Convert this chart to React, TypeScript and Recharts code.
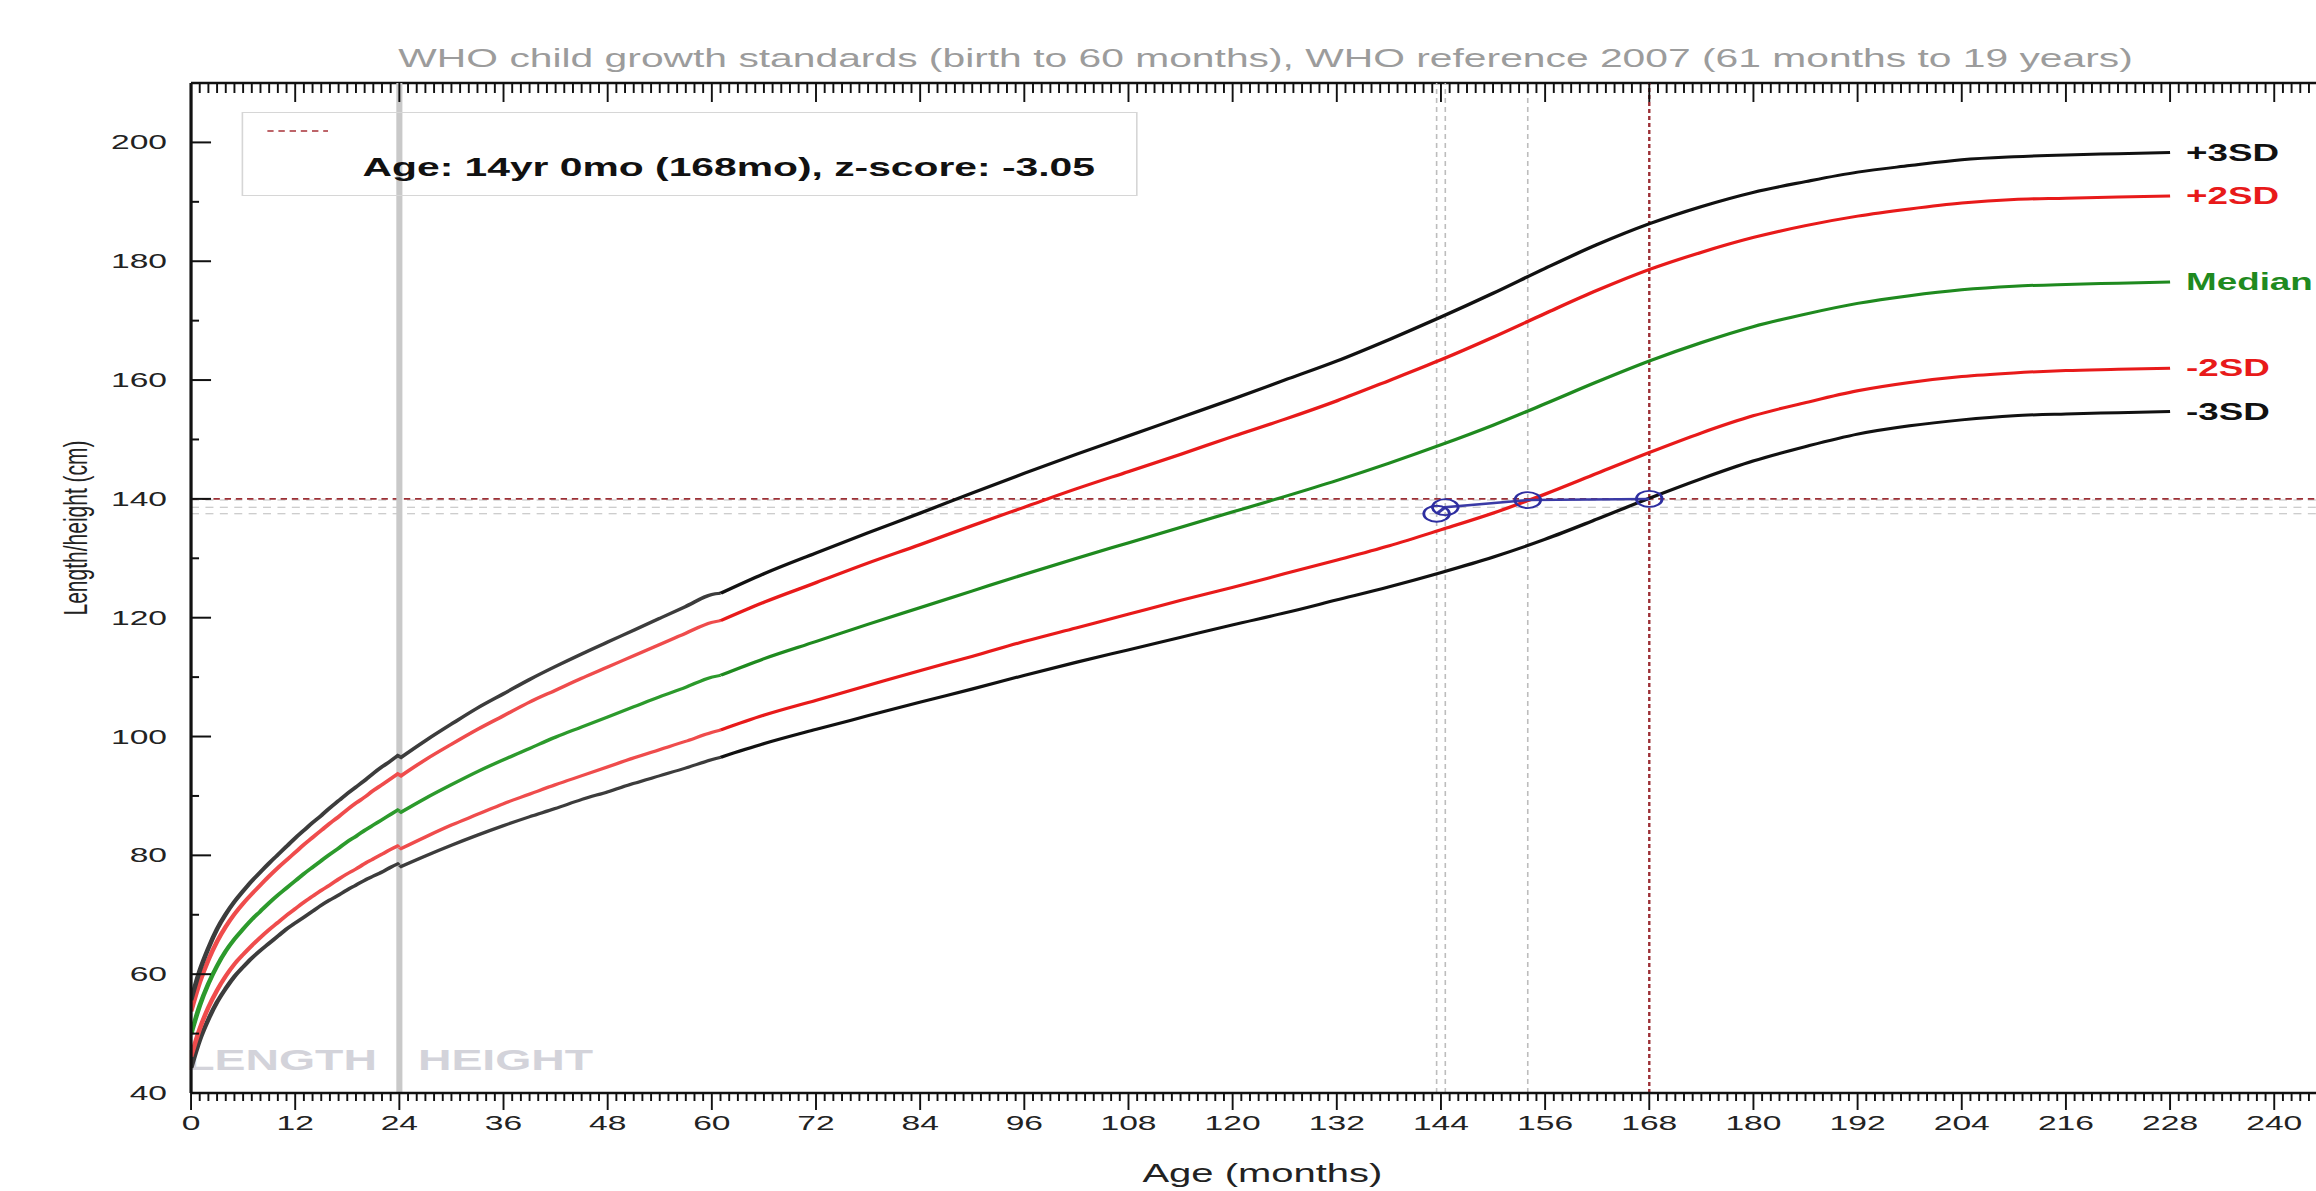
import React from 'react';
import { ComposedChart, Line, XAxis, YAxis, ReferenceLine, Legend, LabelList } from 'recharts';

// ---------- layout constants ----------
const STRETCH = 1.6; // the reference image is horizontally stretched
const CHART_W = 1600;
const CHART_H = 1191;
const PLOT_H = 1010;
const FONT = '"Liberation Sans", Arial, Helvetica, sans-serif';

// ---------- data (WHO boys length/height-for-age, cm) ----------
// Length 0–24 months
const lengthMonths = [0, 1, 2, 3, 4, 5, 6, 7, 8, 9, 10, 11, 12, 13, 14, 15, 16, 17, 18, 19, 20, 21, 22, 23, 24];
const lengthMinus3 = [44.2, 48.9, 52.4, 55.3, 57.6, 59.6, 61.2, 62.7, 64.0, 65.2, 66.4, 67.6, 68.6, 69.6, 70.6, 71.6, 72.5, 73.3, 74.2, 75.0, 75.8, 76.5, 77.2, 78.0, 78.7];
const lengthMinus2 = [46.1, 50.8, 54.4, 57.3, 59.7, 61.7, 63.3, 64.8, 66.2, 67.5, 68.7, 69.9, 71.0, 72.1, 73.1, 74.1, 75.0, 76.0, 76.9, 77.7, 78.6, 79.4, 80.2, 81.0, 81.7];
const lengthMedian = [49.9, 54.7, 58.4, 61.4, 63.9, 65.9, 67.6, 69.2, 70.6, 72.0, 73.3, 74.5, 75.7, 76.9, 78.0, 79.1, 80.2, 81.2, 82.3, 83.2, 84.2, 85.1, 86.0, 86.9, 87.8];
const lengthPlus2 = [53.7, 58.6, 62.4, 65.5, 68.0, 70.1, 71.9, 73.5, 75.0, 76.5, 77.9, 79.2, 80.5, 81.8, 83.0, 84.2, 85.4, 86.5, 87.7, 88.8, 89.8, 90.9, 91.9, 92.9, 93.9];
const lengthPlus3 = [55.6, 60.6, 64.4, 67.6, 70.1, 72.2, 74.0, 75.7, 77.2, 78.7, 80.1, 81.5, 82.9, 84.2, 85.5, 86.7, 88.0, 89.2, 90.4, 91.5, 92.6, 93.8, 94.9, 95.9, 97.0];

// Height 24–61 months (joins the 2007 reference at 61)
const heightMonths = [24, 27, 30, 33, 36, 39, 42, 45, 48, 51, 54, 57, 60, 61];
const heightMinus3 = [78.0, 79.9, 81.7, 83.4, 85.0, 86.5, 87.9, 89.4, 90.7, 92.1, 93.4, 94.7, 96.1, 96.5];
const heightMinus2 = [81.0, 83.1, 85.1, 86.9, 88.7, 90.3, 91.9, 93.4, 94.9, 96.4, 97.8, 99.2, 100.7, 101.1];
const heightMedian = [87.1, 89.6, 91.9, 94.1, 96.1, 98.0, 99.9, 101.6, 103.3, 105.0, 106.7, 108.3, 110.0, 110.3];
const heightPlus2 = [93.2, 96.1, 98.7, 101.2, 103.5, 105.8, 107.8, 109.8, 111.7, 113.6, 115.5, 117.4, 119.2, 119.5];
const heightPlus3 = [96.3, 99.3, 102.1, 104.8, 107.2, 109.6, 111.8, 113.9, 115.9, 117.9, 119.9, 121.9, 123.9, 124.1];

// WHO reference 2007, 61–228 months
const refMonths = [61, 66, 72, 78, 84, 90, 96, 102, 108, 114, 120, 126, 132, 138, 144, 150, 156, 162, 168, 174, 180, 186, 192, 198, 204, 210, 216, 222, 228];
const refMinus3 = [96.5, 98.8, 101.2, 103.5, 105.8, 108.0, 110.3, 112.5, 114.6, 116.7, 118.8, 120.8, 123.0, 125.2, 127.6, 130.2, 133.2, 136.6, 140.1, 143.4, 146.4, 148.8, 150.9, 152.3, 153.3, 154.0, 154.3, 154.5, 154.7];
const refMinus2 = [101.1, 103.6, 106.1, 108.6, 111.1, 113.5, 116.0, 118.3, 120.6, 122.9, 125.1, 127.4, 129.7, 132.1, 134.8, 137.6, 140.8, 144.3, 147.8, 151.1, 154.0, 156.2, 158.2, 159.6, 160.6, 161.2, 161.6, 161.8, 162.0];
const refMedian = [110.3, 113.1, 116.0, 118.9, 121.7, 124.5, 127.3, 130.0, 132.6, 135.2, 137.8, 140.4, 143.1, 146.0, 149.1, 152.4, 156.0, 159.7, 163.2, 166.3, 169.0, 171.1, 172.9, 174.2, 175.2, 175.8, 176.1, 176.3, 176.5];
const refPlus2 = [119.5, 122.6, 125.9, 129.2, 132.3, 135.5, 138.6, 141.7, 144.6, 147.5, 150.5, 153.4, 156.5, 159.9, 163.4, 167.2, 171.2, 175.1, 178.6, 181.5, 184.0, 186.0, 187.6, 188.8, 189.8, 190.4, 190.6, 190.8, 191.0];
const refPlus3 = [124.1, 127.4, 130.9, 134.3, 137.6, 141.0, 144.3, 147.5, 150.6, 153.7, 156.8, 160.0, 163.2, 166.8, 170.6, 174.6, 178.8, 182.8, 186.3, 189.2, 191.6, 193.4, 195.0, 196.1, 197.1, 197.6, 197.9, 198.1, 198.3];

// Patient measurements
const visitMonths = [143.5, 144.5, 154, 168];
const visitHeights = [137.5, 138.6, 139.8, 140.0];
const selectedMonth = 168;
const selectedHeight = 140.0;

// Labels
const sdLabels = ['-3SD', '-2SD', 'Median', '+2SD', '+3SD'];
const xMajorTicks = [0, 12, 24, 36, 48, 60, 72, 84, 96, 108, 120, 132, 144, 156, 168, 180, 192, 204, 216, 228, 240];
const yMajorTicks = [40, 60, 80, 100, 120, 140, 160, 180, 200];
const titleText = 'WHO child growth standards (birth to 60 months), WHO reference 2007 (61 months to 19 years)';
const legendText = 'Age: 14yr 0mo (168mo), z-score: -3.05';

// ---------- styling ----------
const earlyColors = ['#3c3c3c', '#ef4c4c', '#2c9a2c', '#ef4c4c', '#3c3c3c'];
const lateColors = ['#111111', '#e81a1a', '#1f8a1f', '#e81a1a', '#111111'];

const X_DOMAIN: [number, number] = [0, 264];
const Y_DOMAIN: [number, number] = [40, 210];
const xAllTicks: number[] = [];
for (let m = X_DOMAIN[0]; m <= X_DOMAIN[1]; m += 1) xAllTicks.push(m);
const yAllTicks: number[] = [];
for (let v = Y_DOMAIN[0]; v <= Y_DOMAIN[1]; v += 10) yAllTicks.push(v);

const toSeries = (xs: number[], ys: number[]) => xs.map((m, i) => ({ m, v: ys[i] }));

const segments = [
  { key: 'len', months: lengthMonths, values: [lengthMinus3, lengthMinus2, lengthMedian, lengthPlus2, lengthPlus3], colors: earlyColors, labels: false },
  { key: 'ht', months: heightMonths, values: [heightMinus3, heightMinus2, heightMedian, heightPlus2, heightPlus3], colors: earlyColors, labels: false },
  { key: 'ref', months: refMonths, values: [refMinus3, refMinus2, refMedian, refPlus2, refPlus3], colors: lateColors, labels: true },
];

const visitData = toSeries(visitMonths, visitHeights);

// ---------- tick renderers ----------
// bottom axis: outward ticks + labels; also draws the mirrored inward ticks on the top frame
const BottomTick = (props: any) => {
  const { x, y, payload } = props;
  const v = payload.value;
  const major = v % 12 === 0;
  const top = y - PLOT_H;
  return (
    <g>
      <line x1={x} x2={x} y1={y} y2={y + (major ? 17 : 8)} stroke="#111" strokeWidth={1.2} />
      <line x1={x} x2={x} y1={top} y2={top + (major ? 19 : 10)} stroke="#111" strokeWidth={1.2} />
      {xMajorTicks.includes(v) && (
        <text x={x} y={y + 37} textAnchor="middle" fontSize={21} fill="#222" fontFamily={FONT}>
          {v}
        </text>
      )}
    </g>
  );
};

const LeftTick = (props: any) => {
  const { x, y, payload } = props;
  const v = payload.value;
  const major = yMajorTicks.includes(v);
  return (
    <g>
      <line x1={x} x2={x + (major ? 12.5 : 5)} y1={y} y2={y} stroke="#111" strokeWidth={2} />
      {major && (
        <text x={x - 15} y={y + 7} textAnchor="end" fontSize={21} fill="#222" fontFamily={FONT}>
          {v}
        </text>
      )}
    </g>
  );
};

const XTitleLabel = () => (
  <text x={789} y={1182} textAnchor="middle" fontSize={25} fill="#222" fontFamily={FONT}>
    Age (months)
  </text>
);

// y-axis title plus the chart title above the frame
const YTitleLabel = () => (
  <g>
    <text x={47} y={528} transform="rotate(-90, 47, 528)" textAnchor="middle" dominantBaseline="central" fontSize={21} fill="#222" fontFamily={FONT}>
      Length/height (cm)
    </text>
    <text x={791} y={67} textAnchor="middle" fontSize={25.5} fill="#9c9c9c" fontFamily={FONT}>
      {titleText}
    </text>
  </g>
);

const LengthHeightLabel = (props: any) => {
  const vb = props.viewBox || {};
  const x = vb.x ?? 0;
  const bottom = (vb.y ?? 0) + (vb.height ?? 0);
  return (
    <g>
      <text x={x - 14} y={bottom - 23} textAnchor="end" fontSize={29} fontWeight="bold" fill="#d3d3da" fontFamily={FONT}>
        LENGTH
      </text>
      <text x={x + 11.6} y={bottom - 23} textAnchor="start" fontSize={29} fontWeight="bold" fill="#d3d3da" fontFamily={FONT}>
        HEIGHT
      </text>
    </g>
  );
};

const makeSdLabel = (label: string, color: string, lastIndex: number) => (props: any) => {
  const { x, y, index } = props;
  if (index !== lastIndex) return null;
  return (
    <text x={x + 10} y={y + 8} fontSize={23} fontWeight="bold" fill={color} fontFamily={FONT}>
      {label}
    </text>
  );
};

const LegendBox = () => (
  <div style={{ position: 'relative', width: '100%', height: '100%', border: '1.5px solid #d6d6d6', boxSizing: 'border-box' }}>
    <svg style={{ position: 'absolute', left: 15, top: 16 }} width={38} height={4}>
      <line x1={0} x2={38} y1={2} y2={2} stroke="#a83238" strokeWidth={1.5} strokeDasharray="4 3" />
    </svg>
    <span
      style={{
        position: 'absolute',
        left: 75,
        top: 42,
        fontFamily: FONT,
        fontWeight: 'bold',
        fontSize: 25.5,
        lineHeight: '25px',
        color: '#111',
        whiteSpace: 'nowrap',
      }}
    >
      {legendText}
    </span>
  </div>
);

export default function App() {
  const outer: React.CSSProperties = {
    position: 'fixed',
    left: 0,
    top: 0,
    width: 2316,
    height: 1191,
    overflow: 'hidden',
    background: '#fff',
    zIndex: 10,
  };
  const inner: React.CSSProperties = {
    width: CHART_W,
    height: CHART_H,
    transform: `scale(${STRETCH}, 1)`,
    transformOrigin: '0 0',
  };

  return (
    <div style={outer}>
      <style>{'html, body { overflow: hidden; margin: 0; background: #fff; }'}</style>
      <div style={inner}>
        <ComposedChart
          width={CHART_W}
          height={CHART_H}
          margin={{ top: 83, right: 48.4, bottom: 38, left: 0 }}
          accessibilityLayer={false}
        >
          <XAxis
            dataKey="m"
            type="number"
            domain={X_DOMAIN}
            allowDataOverflow
            ticks={xAllTicks}
            interval={0}
            tickSize={0}
            tickMargin={0}
            tickLine={false}
            tick={<BottomTick />}
            height={60}
            axisLine={{ stroke: '#111', strokeWidth: 2.5 }}
            label={<XTitleLabel />}
          />
          <YAxis
            type="number"
            domain={Y_DOMAIN}
            allowDataOverflow
            ticks={yAllTicks}
            interval={0}
            tickSize={0}
            tickMargin={0}
            tickLine={false}
            tick={<LeftTick />}
            width={119.4}
            axisLine={{ stroke: '#111', strokeWidth: 2 }}
            label={<YTitleLabel />}
          />

          {/* top frame line */}
          <ReferenceLine y={Y_DOMAIN[1]} stroke="#111" strokeWidth={2.5} />

          {/* measurement guide lines */}
          {visitMonths.slice(0, 3).map((m) => (
            <ReferenceLine key={`vx${m}`} x={m} stroke="#bdbdbd" strokeWidth={1} strokeDasharray="5 4" />
          ))}
          {visitHeights.slice(0, 3).map((h) => (
            <ReferenceLine key={`vy${h}`} y={h} stroke="#bdbdbd" strokeWidth={1} strokeDasharray="5 4" />
          ))}
          <ReferenceLine y={selectedHeight} stroke="#9c2f35" strokeWidth={1.8} strokeDasharray="4 3" />
          <ReferenceLine x={selectedMonth} stroke="#9c2f35" strokeWidth={1.5} strokeDasharray="4 3" />

          {/* length / height separator */}
          <ReferenceLine x={24} stroke="#c9c9c9" strokeWidth={3.8} label={<LengthHeightLabel />} />

          {segments.map((seg) =>
            seg.values.map((vals, k) => {
              const data = toSeries(seg.months, vals);
              return (
                <Line
                  key={`${seg.key}-${k}`}
                  data={data}
                  dataKey="v"
                  type="monotone"
                  stroke={seg.colors[k]}
                  strokeWidth={3}
                  dot={false}
                  activeDot={false}
                  isAnimationActive={false}
                >
                  {seg.labels && (
                    <LabelList dataKey="v" content={makeSdLabel(sdLabels[k], seg.colors[k], data.length - 1)} />
                  )}
                </Line>
              );
            })
          )}

          <Line
            data={visitData}
            dataKey="v"
            type="linear"
            stroke="#3a3aa6"
            strokeWidth={2.5}
            dot={{ r: 8, fill: 'none', stroke: '#2e2ea0', strokeWidth: 1.8 }}
            activeDot={false}
            isAnimationActive={false}
          />

          <Legend
            layout="horizontal"
            verticalAlign="middle"
            align="center"
            wrapperStyle={{ left: 150.6, top: 112, width: 560, height: 84 }}
            content={() => <LegendBox />}
          />
        </ComposedChart>
      </div>
    </div>
  );
}
